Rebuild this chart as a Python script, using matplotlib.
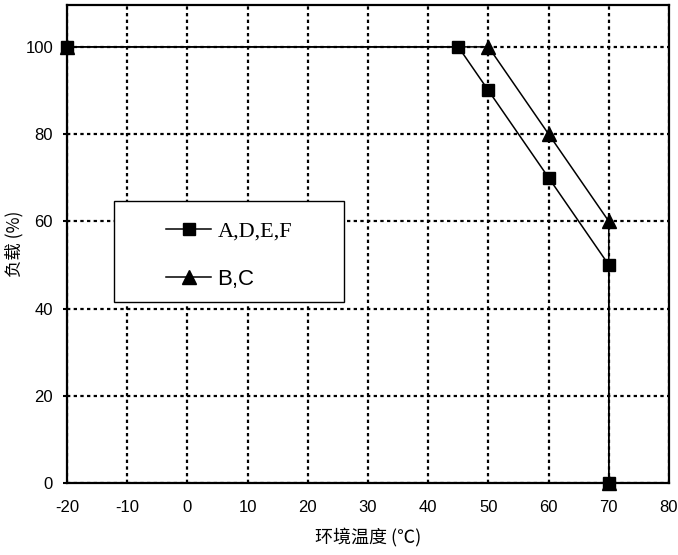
import matplotlib
matplotlib.use('Agg')
import matplotlib.pyplot as plt
from matplotlib.patches import Rectangle

temp_adef = [-20, 45, 50, 60, 70, 70]
load_adef = [100, 100, 90, 70, 50, 0]
temp_bc = [-20, 50, 60, 70, 70]
load_bc = [100, 100, 80, 60, 0]
xticks = list(range(-20, 81, 10))
yticks = list(range(0, 101, 20))

fig = plt.figure(figsize=(6.78, 5.55), dpi=100)
ax = fig.add_axes([67 / 678, 1 - 483 / 555, 602 / 678, 478 / 555])

ax.set_xlim(-20, 80)
ax.set_ylim(0, 109.6)
ax.set_xticks(xticks)
ax.set_yticks(yticks)
ax.set_xticklabels([str(t) for t in xticks], family='Liberation Sans', fontsize=12)
ax.set_yticklabels([str(t) for t in yticks], family='Liberation Sans', fontsize=12)
ax.tick_params(axis='x', length=0, pad=12)
ax.tick_params(axis='y', length=3, width=1.5, direction='out', pad=7)
ax.grid(True, color='black', linestyle=(0, (1.5, 1.5)), linewidth=1.6)
ax.set_axisbelow(True)
for sp in ax.spines.values():
    sp.set_linewidth(1.6)
    sp.set_color('black')

l1, = ax.plot(temp_adef, load_adef, color='black', lw=1.1, marker='s', ms=8.5,
              clip_on=False, zorder=4)
l2, = ax.plot(temp_bc, load_bc, color='black', lw=1.1, marker='^', ms=9.5,
              clip_on=False, zorder=3)

ax.set_xlabel('环境温度 (℃)', family=['Noto Sans CJK SC', 'DejaVu Sans'], fontsize=13, labelpad=9)
ax.set_ylabel('负载 (%)', family=['Noto Sans CJK SC', 'DejaVu Sans'], fontsize=12.5, labelpad=1)

box = Rectangle((0.078, 0.379), 0.382, 0.212, transform=ax.transAxes,
                facecolor='white', edgecolor='black', lw=1, zorder=5)
ax.add_patch(box)
leg = ax.legend([l1, l2], ['A,D,E,F', 'B,C'], loc='center left',
                bbox_to_anchor=(0.132, 0.476), frameon=False, fontsize=16,
                handlelength=2.0, handletextpad=0.3, labelspacing=1.2)
leg.set_zorder(6)
leg.get_texts()[0].set_family('Liberation Serif')
leg.get_texts()[1].set_family('Liberation Sans')

fig.savefig('out.png', dpi=100)
